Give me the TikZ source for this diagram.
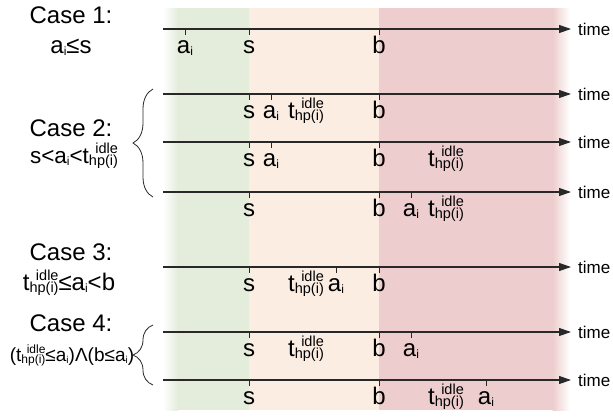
\documentclass[tikz,border=0pt]{standalone}
\usepackage{fontspec}
\setmainfont{Liberation Sans}
\usetikzlibrary{arrows.meta,decorations.pathreplacing}
\definecolor{greenbg}{RGB}{228,236,220}
\definecolor{peachbg}{RGB}{252,237,227}
\definecolor{pinkbg}{RGB}{237,205,205}
\definecolor{axis}{RGB}{40,40,40}
\newsavebox\hpbox
\newcommand\ai[1][12]{a\raisebox{-2pt}{\fontsize{#1}{#1}\selectfont i}}
\newcommand\tid[1][14.5]{t\raisebox{-2pt}{\fontsize{#1}{#1}\selectfont\sbox\hpbox{hp(i)}\rlap{\makebox[\wd\hpbox][r]{\raisebox{0.8em}{idle}}}\usebox\hpbox}}
\begin{document}
\begin{tikzpicture}[x=1pt,y=-1pt,
  tl/.style={draw=axis,line width=1.1pt,-{Triangle[length=12pt,width=8pt]}},
  tk/.style={draw=axis,line width=0.8pt},
  lab/.style={anchor=base,inner sep=0pt,font=\fontsize{24}{28}\selectfont},
  tim/.style={anchor=west,inner sep=0pt,font=\fontsize{17}{20}\selectfont},
  case/.style={anchor=base,inner sep=0pt,font=\fontsize{24}{28}\selectfont},
  cond/.style={anchor=base,inner sep=0pt,font=\fontsize{22.5}{26}\selectfont},
  brc/.style={draw=axis,line width=0.8pt,decorate,decoration={brace,amplitude=20pt,aspect=0.5}}]
\useasboundingbox (0,0) rectangle (613,416);
% background bands
\shade[left color=white,right color=greenbg] (163,8) rectangle (178,410);
\fill[greenbg] (177.5,8) rectangle (249,410);
\fill[peachbg] (249,8) rectangle (379,410);
\fill[pinkbg] (379,8) rectangle (553,410);
\shade[left color=pinkbg,right color=white] (552.5,8) rectangle (570,410);
% timelines
\foreach \n/\y in {1/29,2/94,3/142,4/192,5/267,6/332,7/380}{
  \coordinate (L\n) at (163,\y);
  \coordinate (R\n) at (571,\y);
  \draw[tl] (L\n) -- (R\n);
  \node[tim] (time\n) at (578,\y) {time};
}
% ticks and labels
\newcommand\tick[4]{% name, line, x, label
  \draw[tk] ([xshift=#3pt]L#2) -- ++(0,6);
  \node[lab] (#1) at ([xshift=#3pt,yshift=-24pt]L#2) {#4};}
\newcommand\lbl[4]{\node[lab] (#1) at ([xshift=#3pt,yshift=-24pt]L#2) {#4};}
% line 1
\tick{a1}{1}{22}{\ai}
\tick{s1}{1}{86}{s}
\tick{b1}{1}{216}{b}
% line 2
\tick{s2}{2}{86}{s}
\tick{a2}{2}{108}{\ai}
\lbl{t2}{2}{143}{\tid}
\tick{b2}{2}{216}{b}
% line 3
\tick{s3}{3}{86}{s}
\tick{a3}{3}{108}{\ai}
\tick{b3}{3}{216}{b}
\lbl{t3}{3}{283}{\tid}
% line 4
\tick{s4}{4}{86}{s}
\tick{b4}{4}{216}{b}
\tick{a4}{4}{248}{\ai}
\lbl{t4}{4}{283}{\tid}
% line 5
\tick{s5}{5}{86}{s}
\lbl{t5}{5}{143}{\tid}
\tick{a5}{5}{173}{\ai}
\tick{b5}{5}{216}{b}
% line 6
\tick{s6}{6}{86}{s}
\lbl{t6}{6}{143}{\tid}
\tick{b6}{6}{216}{b}
\tick{a6}{6}{248}{\ai}
% line 7
\tick{s7}{7}{86}{s}
\tick{b7}{7}{216}{b}
\lbl{t7}{7}{283}{\tid}
\tick{a7}{7}{323}{\ai}
% case labels
\node[case] (c1) at (71,23) {Case 1:};
\node[lab] (c1c) at (71,53) {\ai≤s};
\node[case] (c2) at (71,136) {Case 2:};
\node[cond] (c2c) at (74,163) {s<\ai<\tid};
\node[case] (c3) at (71,260) {Case 3:};
\node[lab] (c3c) at (69,290) {\tid≤\ai<b};
\node[case] (c4) at (71,331) {Case 4:};
\node[cond,font=\fontsize{19}{22}\selectfont] (c4c) at (72,361) {(\tid[12]≤\ai[10])Λ(b≤\ai[10])};
% braces
\coordinate (br2b) at (153,197);
\coordinate (br2t) at (153,89);
\coordinate (br4b) at (153,385);
\coordinate (br4t) at (153,325);
\draw[brc] (br2b) -- (br2t);
\draw[brc] (br4b) -- (br4t);
\end{tikzpicture}
\end{document}
